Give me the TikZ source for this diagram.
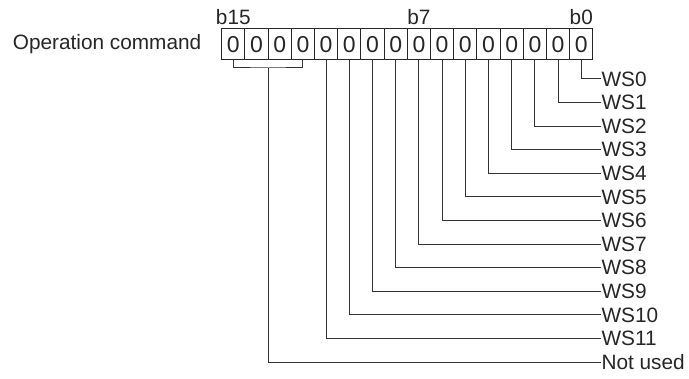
\documentclass[tikz,border=0pt]{standalone}
\usepackage{fontspec}
\setmainfont{Liberation Sans}
\usetikzlibrary{positioning}

\begin{document}
\begin{tikzpicture}[
    x=1pt, y=-1pt,
    font=\fontsize{20.8}{24}\selectfont,
    color=black!85,
    line width=1pt,
    bitcell/.style={rectangle, draw, inner sep=0pt, minimum width=23.2pt,
                    minimum height=31pt, font=\fontsize{23}{26}\selectfont},
    bitlbl/.style={inner sep=0pt, anchor=base},
    wslbl/.style={inner sep=0pt, anchor=west},
    wire/.style={black!80, line width=1pt}
  ]
    \useasboundingbox (0,0) rectangle (689,379);

    % register cells, b15 on the left
    \foreach \b in {0,...,15}
      \node[bitcell] (c\b) at ({221.7+(15.5-\b)*23.2},44.5) {0};

    \node[inner sep=0pt, left=19.4pt of c15] (opcmd) {Operation command};
    \node[bitlbl] (b15) at ([yshift=4pt]c15.north) {b15};
    \node[bitlbl] (b7) at ([yshift=4pt]c7.north) {b7};
    \node[bitlbl] (b0) at ([yshift=4pt]c0.north) {b0};

    % signal names
    \foreach \k in {0,...,11}
      \node[wslbl] (ws\k) at (601,{79+\k*23.6}) {WS\k};
    \node[wslbl] (nu) at (601,{79+12*23.6}) {Not used};

    \foreach \k in {0,...,11}
      \draw[wire] (c\k.south) |- (ws\k.west);

    % b12..b15 grouped
    \coordinate (brk) at (268.3,68);
    \draw[wire] (c15.south) |- (brk) -| (c12.south);
    \draw[wire] (brk) |- (nu.west);
  \end{tikzpicture}
\end{document}
